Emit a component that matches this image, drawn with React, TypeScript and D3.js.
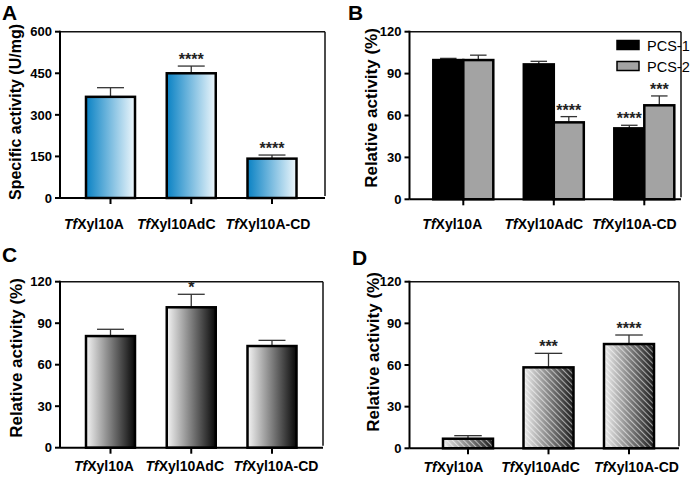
import React from "react";
import * as d3 from "d3";

// ---------- data ----------
const categories = ["Xyl10A", "Xyl10AdC", "Xyl10A-CD"];
const prefix = "Tf";

const specificActivity = [365, 450, 142];
const specificActivityErr = [33, 26, 13];
const specificActivitySig = ["", "****", "****"];
const ticksA = [0, 150, 300, 450, 600];

const pcs1 = [99.7, 96.6, 50.8];
const pcs1Err = [1.2, 2.2, 2.2];
const pcs1Sig = ["", "", "****"];
const pcs2 = [99.7, 55.1, 67.3];
const pcs2Err = [3.5, 4.1, 6.7];
const pcs2Sig = ["", "****", "***"];
const seriesNamesB = ["PCS-1", "PCS-2"];

const relC = [80.7, 101.5, 73.5];
const relCErr = [4.9, 9.4, 4.1];
const relCSig = ["", "*", ""];

const relD = [6.9, 58.3, 75.1];
const relDErr = [2.2, 10.1, 6.5];
const relDSig = ["", "***", "****"];

const ticksRel = [0, 30, 60, 90, 120];

// ---------- layout ----------
const FONT = "'Liberation Sans', Arial, Helvetica, sans-serif";

type Series = { name: string; values: number[]; errs: number[]; sig: string[]; fill: string; overlay?: string };
type PanelCfg = {
  letter: string; letterX: number; letterY: number;
  left: number; right: number; top: number; bottom: number;
  c0: number; c2: number; barW: number;
  yMax: number; ticks: number[];
  title: string; titleX: number; titleY: number; titleSize: number;
  labelY: number; labelDx: number[];
  series: Series[];
  legend?: boolean;
};

function Panel({ cfg }: { cfg: PanelCfg }) {
  const y = d3.scaleLinear().domain([0, cfg.yMax]).range([cfg.bottom, cfg.top]);
  const x = d3.scalePoint<string>().domain(categories).range([cfg.c0, cfg.c2]);
  const n = cfg.series.length;
  const inner = d3
    .scaleBand<string>()
    .domain(cfg.series.map((s) => s.name))
    .range([(-cfg.barW * n) / 2, (cfg.barW * n) / 2]);
  return (
    <g fontFamily={FONT}>
      <text x={cfg.letterX} y={cfg.letterY} fontSize={21} fontWeight="bold">{cfg.letter}</text>
      {/* frame */}
      <line x1={cfg.left} x2={cfg.right} y1={cfg.top} y2={cfg.top} stroke="#111" strokeWidth={1.5} />
      <line x1={cfg.right} x2={cfg.right} y1={cfg.top} y2={cfg.bottom - 2} stroke="#111" strokeWidth={1.5} />
      {/* bars */}
      {cfg.series.map((s) =>
        s.values.map((v, i) => {
          const bx = (x(categories[i]) as number) + (inner(s.name) as number);
          const bw = inner.bandwidth();
          const yt = y(v);
          const ye = y(v + s.errs[i]);
          const cx = bx + bw / 2;
          const cap = bw * 0.55;
          return (
            <g key={s.name + i}>
              <line x1={cx} x2={cx} y1={yt} y2={ye} stroke="#333" strokeWidth={1.3} />
              <line x1={cx - cap / 2} x2={cx + cap / 2} y1={ye} y2={ye} stroke="#333" strokeWidth={1.3} />
              <rect x={bx} y={yt} width={bw} height={cfg.bottom - yt} fill={s.fill} />
              {s.overlay && <rect x={bx} y={yt} width={bw} height={cfg.bottom - yt} fill={s.overlay} />}
              <rect x={bx} y={yt} width={bw} height={cfg.bottom - yt} fill="none" stroke="#000" strokeWidth={2.5} />
              {s.sig[i] && (
                <text x={cx} y={ye - 1} textAnchor="middle" fontSize={16} fontWeight="bold" fill="#222">
                  {s.sig[i]}
                </text>
              )}
            </g>
          );
        })
      )}
      {/* axes */}
      <line x1={cfg.left} x2={cfg.left} y1={cfg.top - 1} y2={cfg.bottom} stroke="#000" strokeWidth={2} />
      <line x1={cfg.left} x2={cfg.right} y1={cfg.bottom} y2={cfg.bottom} stroke="#000" strokeWidth={2} />
      {cfg.ticks.map((t) => (
        <g key={t}>
          <line x1={cfg.left - 5} x2={cfg.left} y1={y(t)} y2={y(t)} stroke="#000" strokeWidth={2} />
          <text x={cfg.left - 8} y={y(t)} dy="0.36em" textAnchor="end" fontSize={13} fontWeight="bold">{t}</text>
        </g>
      ))}
      {categories.map((c, i) => (
        <g key={c}>
          <line x1={x(c)} x2={x(c)} y1={cfg.bottom} y2={cfg.bottom + 6} stroke="#000" strokeWidth={2} />
          <text x={(x(c) as number) + cfg.labelDx[i]} y={cfg.labelY} textAnchor="middle" fontSize={14} fontWeight="bold">
            <tspan fontStyle="italic">{prefix}</tspan>{c}
          </text>
        </g>
      ))}
      <text
        transform={`translate(${cfg.titleX},${cfg.titleY}) rotate(-90)`}
        textAnchor="middle"
        dy="0.36em"
        fontSize={cfg.titleSize}
        fontWeight="bold"
      >
        {cfg.title}
      </text>
      {cfg.legend &&
        cfg.series.map((s, i) => (
          <g key={s.name}>
            <rect x={617} y={40.5 + i * 21} width={22} height={9} fill={s.fill} stroke="#000" strokeWidth={1.5} />
            <text x={647} y={50.5 + i * 21} fontSize={14.5}>{s.name}</text>
          </g>
        ))}
    </g>
  );
}

export default function App() {
  const panels: PanelCfg[] = [
    {
      letter: "A", letterX: 2, letterY: 20,
      left: 60, right: 325, top: 31.7, bottom: 198,
      c0: 110.5, c2: 272, barW: 49, yMax: 600, ticks: ticksA,
      title: "Specific activity (U/mg)", titleX: 15, titleY: 112, titleSize: 16,
      labelY: 229, labelDx: [-16.5, -15, -4],
      series: [{ name: "A", values: specificActivity, errs: specificActivityErr, sig: specificActivitySig, fill: "url(#gradA)" }],
    },
    {
      letter: "B", letterX: 348, letterY: 20,
      left: 409.5, right: 681, top: 31.7, bottom: 199.3,
      c0: 463.3, c2: 644.3, barW: 30, yMax: 120, ticks: ticksRel,
      title: "Relative activity (%)", titleX: 371, titleY: 108, titleSize: 17,
      labelY: 229, labelDx: [-11, -10, -10],
      series: [
        { name: seriesNamesB[0], values: pcs1, errs: pcs1Err, sig: pcs1Sig, fill: "#000" },
        { name: seriesNamesB[1], values: pcs2, errs: pcs2Err, sig: pcs2Sig, fill: "#a3a3a3" },
      ],
      legend: true,
    },
    {
      letter: "C", letterX: 2, letterY: 262,
      left: 60, right: 323, top: 281.7, bottom: 447.7,
      c0: 110.5, c2: 272, barW: 49, yMax: 120, ticks: ticksRel,
      title: "Relative activity (%)", titleX: 16, titleY: 358, titleSize: 17,
      labelY: 471, labelDx: [-6.5, -6.5, 4],
      series: [{ name: "C", values: relC, errs: relCErr, sig: relCSig, fill: "url(#gradC)" }],
    },
    {
      letter: "D", letterX: 352, letterY: 265,
      left: 409.5, right: 679, top: 281.7, bottom: 448.3,
      c0: 468, c2: 629, barW: 50, yMax: 120, ticks: ticksRel,
      title: "Relative activity (%)", titleX: 373, titleY: 352, titleSize: 17,
      labelY: 472, labelDx: [-14.5, -8, 7.5],
      series: [{ name: "D", values: relD, errs: relDErr, sig: relDSig, fill: "url(#gradD)", overlay: "url(#hatchD)" }],
    },
  ];
  return (
    <svg
      width={692}
      height={481}
      viewBox="0 0 692 481"
      style={{ position: "absolute", left: 0, top: 0, background: "#fff" }}
    >
      <defs>
        <linearGradient id="gradA" x1="0" x2="1" y1="0" y2="0">
          <stop offset="0" stopColor="#0a82c4" />
          <stop offset="1" stopColor="#eef7fc" />
        </linearGradient>
        <linearGradient id="gradC" x1="0" x2="1" y1="0" y2="0">
          <stop offset="0" stopColor="#f4f4f4" />
          <stop offset="1" stopColor="#080808" />
        </linearGradient>
        <linearGradient id="gradD" x1="0" x2="1" y1="0" y2="0">
          <stop offset="0" stopColor="#eeeeee" />
          <stop offset="1" stopColor="#1a1a1a" />
        </linearGradient>
        <pattern id="hatchD" width={4} height={4} patternUnits="userSpaceOnUse" patternTransform="rotate(-45)">
          <line x1={0} x2={0} y1={0} y2={4} stroke="#fff" strokeWidth={2.2} strokeOpacity={0.55} />
        </pattern>
      </defs>
      <rect width={692} height={481} fill="#fff" />
      {panels.map((p) => (
        <Panel key={p.letter} cfg={p} />
      ))}
    </svg>
  );
}
